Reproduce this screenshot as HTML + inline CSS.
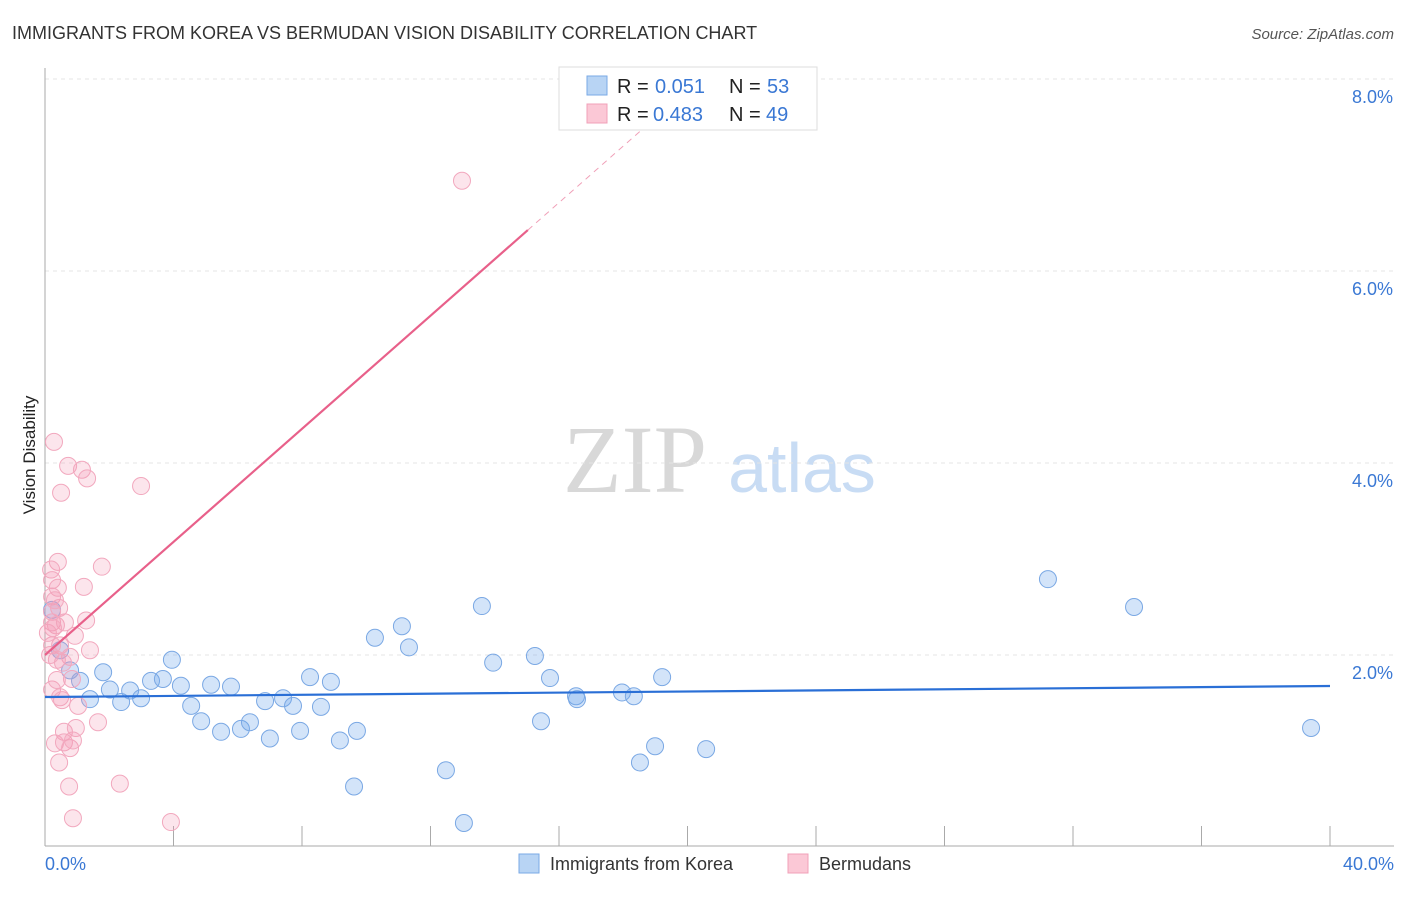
<!DOCTYPE html>
<html><head><meta charset="utf-8"><style>
body{margin:0;background:#fff;font-family:"Liberation Sans",sans-serif}
</style></head><body>
<svg width="1406" height="892" xmlns="http://www.w3.org/2000/svg">
<text x="12" y="39" font-size="18" fill="#333">IMMIGRANTS FROM KOREA VS BERMUDAN VISION DISABILITY CORRELATION CHART</text>
<text x="1394" y="39" font-size="15" fill="#555" font-style="italic" text-anchor="end">Source: ZipAtlas.com</text>
<text x="635" y="492" font-size="96" fill="#d8d8d8" font-family="Liberation Serif,serif" text-anchor="middle">ZIP</text>
<text x="802" y="492" font-size="70" fill="#c8dcf4" text-anchor="middle">atlas</text>
<g id="grid"></g>
<line x1="45" y1="68" x2="45" y2="846" stroke="#aaa"/>
<line x1="45" y1="846" x2="1394" y2="846" stroke="#aaa"/>
<text x="35" y="455" font-size="17" fill="#222" transform="rotate(-90 35 455)" text-anchor="middle">Vision Disability</text>
<g id="marks"></g>
<g>
<rect x="559" y="67" width="258" height="63" fill="#fff" stroke="#ddd"/>
<rect x="587" y="76" width="20" height="19" fill="#b8d4f4" stroke="#7aaae6"/>
<rect x="587" y="104" width="20" height="19" fill="#fbc8d6" stroke="#f0a0b8"/>
<text x="617" y="93" font-size="20" fill="#222">R =</text>
<text x="655" y="93" font-size="20" fill="#3a78d4">0.051</text>
<text x="729" y="93" font-size="20" fill="#222">N =</text>
<text x="767" y="93" font-size="20" fill="#3a78d4">53</text>
<text x="617" y="121" font-size="20" fill="#222">R =</text>
<text x="653" y="121" font-size="20" fill="#3a78d4">0.483</text>
<text x="729" y="121" font-size="20" fill="#222">N =</text>
<text x="766" y="121" font-size="20" fill="#3a78d4">49</text>
</g>
<g>
<rect x="519" y="854" width="20" height="19" fill="#b8d4f4" stroke="#7aaae6"/>
<text x="550" y="870" font-size="18" fill="#333">Immigrants from Korea</text>
<rect x="788" y="854" width="20" height="19" fill="#fbc8d6" stroke="#f0a0b8"/>
<text x="819" y="870" font-size="18" fill="#333">Bermudans</text>
</g>
</svg>
<script>
const blueX=[0.22,0.47,0.78,1.09,1.40,1.81,2.02,2.37,2.65,2.99,3.30,3.67,3.95,4.23,4.55,4.86,5.17,5.48,5.79,6.10,6.38,6.85,7.00,7.41,7.72,7.94,8.25,8.59,8.90,9.18,9.62,9.71,10.27,11.11,11.33,12.48,13.04,13.60,13.95,15.25,15.44,15.72,16.53,16.56,17.96,18.33,18.52,18.99,19.21,20.58,31.22,33.90,39.41];
const blueY=[2.47,2.05,1.84,1.73,1.54,1.82,1.64,1.51,1.63,1.55,1.73,1.75,1.95,1.68,1.47,1.31,1.69,1.20,1.67,1.23,1.30,1.52,1.13,1.55,1.47,1.21,1.77,1.46,1.72,1.11,0.63,1.21,2.18,2.30,2.08,0.80,0.25,2.51,1.92,1.99,1.31,1.76,1.57,1.54,1.61,1.57,0.88,1.05,1.77,1.02,2.79,2.50,1.24];
const pinkX=[0.28,0.72,1.15,1.31,0.50,2.99,1.77,0.40,0.19,0.22,1.21,0.40,0.22,0.44,0.22,1.28,0.22,0.34,0.93,0.47,0.22,0.78,0.37,0.56,0.84,0.22,0.47,1.03,0.59,0.96,0.31,0.59,0.78,0.87,1.65,0.44,0.75,2.33,0.87,3.92,12.98,0.37,0.09,0.16,0.31,0.62,0.25,1.40,0.53];
const pinkY=[4.22,3.97,3.93,3.84,3.69,3.76,2.92,2.97,2.89,2.78,2.71,2.70,2.61,2.49,2.45,2.36,2.34,2.31,2.20,2.10,2.10,1.98,1.95,1.92,1.75,1.64,1.56,1.47,1.20,1.24,1.08,1.09,1.03,1.11,1.30,0.88,0.63,0.66,0.30,0.26,6.94,1.74,2.23,2.00,2.57,2.34,2.28,2.05,1.53];
const yTicks=[2,4,6,8];
const xTickLabels=["0.0%","40.0%"];
const blueTrend=[1.5625,1.677];
const pinkTrend={b:2.0,m:0.2945,solidEnd:15.03,dashEnd:19.0};
const NS="http://www.w3.org/2000/svg";
const X=v=>45+v*32.125, Y=v=>847-v*96;
function mk(t,a,p){const e=document.createElementNS(NS,t);for(const k in a)e.setAttribute(k,a[k]);p.appendChild(e);return e;}
const grid=document.getElementById('grid'), marks=document.getElementById('marks'), svg=grid.parentNode;
yTicks.forEach(t=>{
 const l=mk('line',{x1:45,x2:1394,y1:Y(t),y2:Y(t),stroke:'#e4e4e4','stroke-dasharray':'4,4'},grid);
 
 
 const tx=mk('text',{x:1393,y:Y(t)+24,'font-size':18,fill:'#3a78d4','text-anchor':'end'},svg);
 tx.textContent=t.toFixed(1)+'%';
 
 
});
for(let i=1;i<=10;i++){
 const l=mk('line',{x1:X(i*4),x2:X(i*4),y1:826,y2:846,stroke:'#aaa'},grid);
 
 
}
[[0,'start',45],[40,'end',1394]].forEach((d,i)=>{
 const tx=mk('text',{x:d[2],y:870,'font-size':18,fill:'#3a78d4','text-anchor':d[1]},svg);
 tx.textContent=xTickLabels[i];
 
 
});
blueX.forEach((v,i)=>{
 const c=mk('circle',{cx:X(v),cy:Y(blueY[i]),r:8.5,fill:'rgba(110,165,235,0.3)',stroke:'#7aa8e4','stroke-width':1},marks);
 
 
});
pinkX.forEach((v,i)=>{
 const c=mk('circle',{cx:X(v),cy:Y(pinkY[i]),r:8.5,fill:'rgba(245,150,180,0.25)',stroke:'#f2a8be','stroke-width':1},marks);
 
 
});
const bl=mk('line',{x1:X(0),y1:Y(blueTrend[0]),x2:X(40),y2:Y(blueTrend[1]),stroke:'#2a6fd6','stroke-width':2.2},marks);


const pl=mk('line',{x1:X(0),y1:Y(pinkTrend.b),x2:X(pinkTrend.solidEnd),y2:Y(pinkTrend.b+pinkTrend.m*pinkTrend.solidEnd),stroke:'#e8608a','stroke-width':2.2},marks);


const pd=mk('line',{x1:X(pinkTrend.solidEnd),y1:Y(pinkTrend.b+pinkTrend.m*pinkTrend.solidEnd),x2:X(pinkTrend.dashEnd),y2:Y(pinkTrend.b+pinkTrend.m*pinkTrend.dashEnd),stroke:'#f0a0b8','stroke-width':1,'stroke-dasharray':'6,5'},marks);


</script>
</body></html>
